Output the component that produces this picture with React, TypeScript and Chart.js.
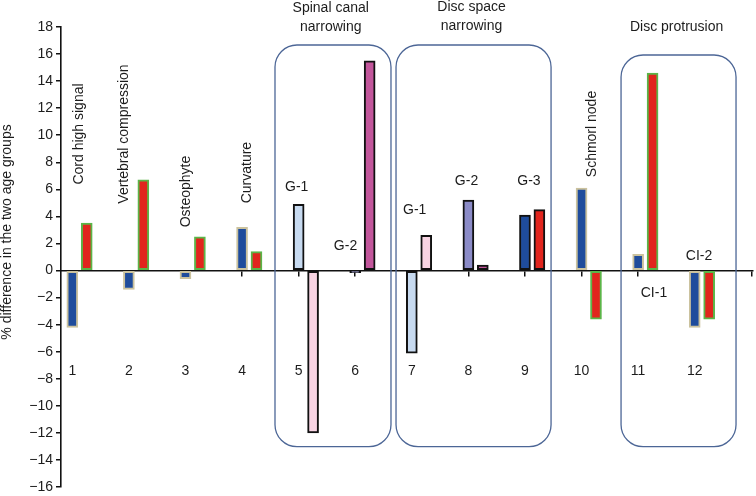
import React, { useEffect, useRef } from 'react';
import { Chart, registerables } from 'chart.js';

Chart.register(...registerables);

// ---- data ----
const categories = ['1', '2', '3', '4', '5', '6', '7', '8', '9', '10', '11', '12'];
const seriesA = [-4.2, -1.4, -0.6, 3.2, 4.9, -0.15, -6.1, 5.2, 4.1, 6.1, 1.2, -4.2];
const seriesB = [3.5, 6.7, 2.5, 1.4, -12.0, 15.5, 2.6, 0.4, 4.5, -3.6, 14.6, -3.6];
const yTickValues = [-16, -14, -12, -10, -8, -6, -4, -2, 0, 2, 4, 6, 8, 10, 12, 14, 16, 18];
const xTickValues = [1, 2, 3, 4, 5, 6, 7, 8, 9, 10, 11, 12, 13];
const yTitle = '% difference in the two age groups';

const featureLabels = ['Cord high signal', 'Vertebral compression', 'Osteophyte', 'Curvature', 'Schmorl node'];
const featureAt = [
  [1.113, 10.09],
  [1.922, 10.09],
  [3.009, 5.84],
  [4.096, 7.24],
  [10.194, 10.09],
];
const gradeLabels = ['G-1', 'G-2', 'G-1', 'G-2', 'G-3', 'CI-1', 'CI-2'];
const gradeAt = [
  [4.966, 6.17],
  [5.828, 1.81],
  [7.051, 4.47],
  [7.967, 6.61],
  [9.071, 6.61],
  [11.28, -1.66],
  [12.076, 1.07],
];
const groupTitles = [['Spinal canal', 'narrowing'], ['Disc space', 'narrowing'], ['Disc protrusion']];
const groupTitleAt = [
  [5.567, 19.36],
  [8.055, 19.44],
  [11.68, 17.97],
];
// boxes: [x0, x1, yTop, yBottom] in data units
const groupBoxes = [
  [4.582, 6.632, 16.67, -13.02],
  [6.721, 9.461, 16.67, -13.02],
  [10.698, 12.73, 15.93, -13.02],
];

// ---- styles ----
const BLUE = '#1F4C9C';
const LIGHTBLUE = '#C7DAF0';
const PURPLE = '#8B8BC7';
const RED = '#E1251D';
const PINK = '#F8D4E3';
const MAGENTA = '#C2569B';
const TAN = '#CBC29E';
const GREEN = '#5BB548';
const BLACK = '#111111';
const BOXC = '#4C6696';
const TEXT = '#1c1c1c';
const FONT = "'Liberation Sans', Arial, Helvetica, sans-serif";

const fillA = [BLUE, BLUE, BLUE, BLUE, LIGHTBLUE, PURPLE, LIGHTBLUE, PURPLE, BLUE, BLUE, BLUE, BLUE];
const edgeA = [TAN, TAN, TAN, TAN, BLACK, BLACK, BLACK, BLACK, BLACK, TAN, TAN, TAN];
const fillB = [RED, RED, RED, RED, PINK, MAGENTA, PINK, MAGENTA, RED, RED, RED, RED];
const edgeB = [GREEN, GREEN, GREEN, GREEN, BLACK, BLACK, BLACK, BLACK, BLACK, GREEN, GREEN, GREEN];

const PAIR_OFFSET = 0.255;
const X_MIN = 0.8;
const X_MAX = 13.03;

const annotationPlugin = {
  id: 'annotations',
  afterDraw(chart: any) {
    const { ctx, scales } = chart;
    const x = scales.x;
    const y = scales.y;
    ctx.save();
    ctx.fillStyle = TEXT;
    ctx.font = `14px ${FONT}`;
    ctx.textAlign = 'center';
    ctx.textBaseline = 'middle';

    // group boxes
    ctx.strokeStyle = BOXC;
    ctx.lineWidth = 1.3;
    groupBoxes.forEach(([x0, x1, yt, yb]) => {
      const l = x.getPixelForValue(x0);
      const r = x.getPixelForValue(x1);
      const t = y.getPixelForValue(yt);
      const b = y.getPixelForValue(yb);
      ctx.beginPath();
      (ctx as any).roundRect(l, t, r - l, b - t, 22);
      ctx.stroke();
    });

    // group titles
    groupTitles.forEach((lines, i) => {
      const px = x.getPixelForValue(groupTitleAt[i][0]);
      const py = y.getPixelForValue(groupTitleAt[i][1]);
      lines.forEach((ln, k) => ctx.fillText(ln, px, py + k * 18.5));
    });

    // grade labels
    gradeLabels.forEach((t, i) => {
      ctx.fillText(t, x.getPixelForValue(gradeAt[i][0]), y.getPixelForValue(gradeAt[i][1]));
    });

    // rotated feature labels
    featureLabels.forEach((t, i) => {
      ctx.save();
      ctx.translate(x.getPixelForValue(featureAt[i][0]), y.getPixelForValue(featureAt[i][1]));
      ctx.rotate(-Math.PI / 2);
      ctx.fillText(t, 0, 0);
      ctx.restore();
    });

    // y axis title
    ctx.save();
    ctx.translate(y.left + 7, y.getPixelForValue(2.85));
    ctx.rotate(-Math.PI / 2);
    ctx.fillText(yTitle, 0, 0);
    ctx.restore();

    ctx.restore();
  },
};

const setXTicks = (s: any) => {
  s.ticks = xTickValues.map((v) => ({ value: v }));
};

export default function App() {
  const ref = useRef<HTMLCanvasElement | null>(null);

  useEffect(() => {
    if (!ref.current) return;
    const chart = new Chart(ref.current, {
      type: 'bar',
      data: {
        datasets: [
          {
            label: 'A',
            data: seriesA.map((v, i) => ({ x: i + 1, y: v })),
            backgroundColor: fillA,
            borderColor: edgeA,
            borderWidth: 2,
            borderSkipped: false,
            barThickness: 11,
            grouped: false,
          } as any,
          {
            label: 'B',
            data: seriesB.map((v, i) => ({ x: i + 1 + PAIR_OFFSET, y: v })),
            backgroundColor: fillB,
            borderColor: edgeB,
            borderWidth: 2,
            borderSkipped: false,
            barThickness: 11,
            grouped: false,
          } as any,
        ],
      },
      options: {
        animation: false,
        responsive: true,
        maintainAspectRatio: false,
        layout: { padding: { left: 0, right: 3, top: 27, bottom: 9 } },
        plugins: { legend: { display: false }, tooltip: { enabled: false } },
        font: { family: FONT } as any,
        scales: {
          x: {
            type: 'linear',
            position: { y: 0 } as any,
            offset: false,
            min: X_MIN,
            max: X_MAX,
            z: 1,
            afterBuildTicks: setXTicks,
            ticks: { display: false, padding: 0 },
            grid: { offset: false, drawOnChartArea: false, drawTicks: true, tickLength: 5, color: BLACK, lineWidth: 1.5 },
            border: { display: true, color: BLACK, width: 1.6 },
          },
          xl: {
            type: 'linear',
            axis: 'x',
            position: { y: -6.78 } as any,
            offset: false,
            min: X_MIN,
            max: X_MAX,
            afterBuildTicks: setXTicks,
            ticks: {
              autoSkip: false,
              maxRotation: 0,
              padding: 0,
              color: TEXT,
              font: { family: FONT, size: 14 },
              callback: (v: any) => categories[Number(v) - 1] ?? '',
            },
            grid: { display: false, drawTicks: false, drawOnChartArea: false },
            border: { display: false },
          } as any,
          y: {
            type: 'linear',
            min: -16,
            max: 18,
            z: 1,
            afterBuildTicks: (s: any) => {
              s.ticks = yTickValues.map((v) => ({ value: v }));
            },
            afterFit: (s: any) => {
              s.width = 61;
              s.paddingTop = 0;
              s.paddingBottom = 0;
            },
            ticks: {
              autoSkip: false,
              padding: 3,
              color: TEXT,
              font: { family: FONT, size: 14 },
              callback: (v: any) => String(v).replace('-', '\u2212'),
            },
            grid: { drawOnChartArea: false, drawTicks: true, tickLength: 5, color: BLACK, lineWidth: 1.5 },
            border: { display: true, color: BLACK, width: 1.6 },
            title: { display: false },
          },
        },
      },
      plugins: [annotationPlugin],
    });
    return () => chart.destroy();
  }, []);

  return (
    <div style={{ position: 'absolute', left: 0, top: 0, width: 756, height: 496, background: '#fff' }}>
      <canvas ref={ref} />
    </div>
  );
}
